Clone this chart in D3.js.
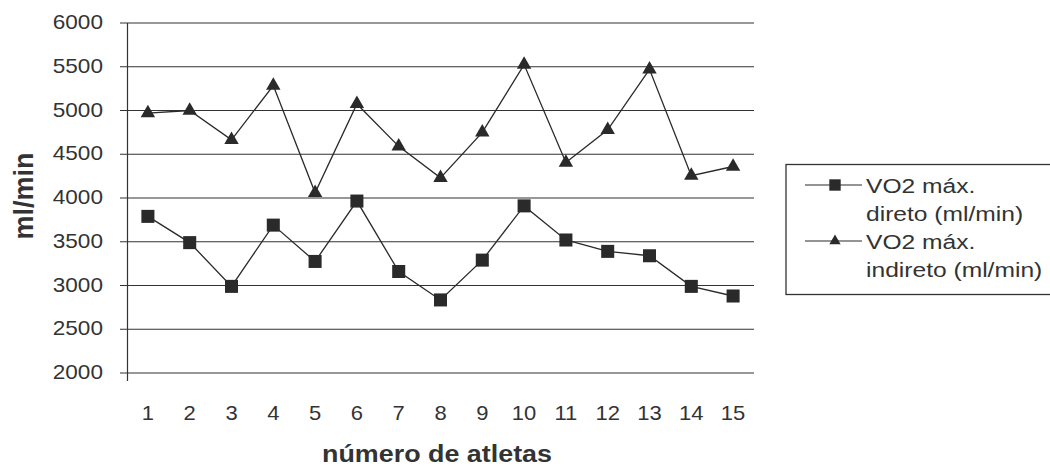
<!DOCTYPE html>
<html><head><meta charset="utf-8">
<script src="https://cdn.jsdelivr.net/npm/d3@7"></script>
<style>body{margin:0;background:#fff}svg{display:block}</style>
</head><body><svg id="c" width="1050" height="472"></svg>
<script>
const categories = ["1","2","3","4","5","6","7","8","9","10","11","12","13","14","15"];
const direto = [3790,3490,2990,3690,3275,3965,3160,2835,3290,3910,3520,3390,3340,2990,2880];
const indireto = [4970,5000,4665,5285,4060,5075,4590,4230,4750,5525,4405,4780,5470,4255,4360];
const yTicks = [2000,2500,3000,3500,4000,4500,5000,5500,6000];
const seriesNames = [["VO2 máx.","direto (ml/min)"],["VO2 máx.","indireto (ml/min)"]];

const svg = d3.select("#c");
const font = "Arial, 'Liberation Sans', sans-serif";
const ink = "#2a2a2a";
const txt = "#333";
const x = d3.scaleBand().domain(categories).range([127, 754]);
const y = d3.scaleLinear().domain([2000, 6000]).range([373, 23]);
const cx = d => x(d) + x.bandwidth()/2;

// gridlines
svg.append("g").selectAll("line").data(yTicks).join("line")
  .attr("x1", 120).attr("x2", 754).attr("y1", d=>y(d)).attr("y2", d=>y(d))
  .attr("stroke", "#333").attr("stroke-width", 1.2);
// y axis line
svg.append("line").attr("x1",127.5).attr("x2",127.5).attr("y1",y(6000)).attr("y2",381)
  .attr("stroke","#333").attr("stroke-width",1.2);
// y tick labels (source image is horizontally stretched)
svg.append("g").selectAll("text").data(yTicks).join("text")
  .attr("transform", d=>`translate(103,${y(d)+6}) scale(1.13,1)`).attr("text-anchor","end")
  .attr("font-family", font).attr("font-size", 20).attr("fill", txt).text(d=>d);
// x tick labels
svg.append("g").selectAll("text").data(categories).join("text")
  .attr("transform", d=>`translate(${cx(d)},420) scale(1.1,1)`).attr("text-anchor","middle")
  .attr("font-family", font).attr("font-size", 20).attr("fill", txt).text(d=>d);
// axis titles
svg.append("text").attr("transform","translate(437,462) scale(1.12,1)").attr("text-anchor","middle")
  .attr("font-family", font).attr("font-size", 24).attr("font-weight","bold").attr("fill",txt)
  .text("número de atletas");
svg.append("text").attr("transform","translate(33,196) rotate(-90)").attr("text-anchor","middle")
  .attr("font-family", font).attr("font-size", 27).attr("font-weight","bold").attr("fill",txt)
  .text("ml/min");

const line = d3.line().x((d,i)=>cx(categories[i])).y(d=>y(d));
svg.append("path").attr("d", line(direto)).attr("fill","none").attr("stroke",ink).attr("stroke-width",1.3);
svg.append("path").attr("d", line(indireto)).attr("fill","none").attr("stroke",ink).attr("stroke-width",1.3);

const sq = d3.symbol().type(d3.symbolSquare).size(170);
const tri = d3.symbol().type(d3.symbolTriangle).size(90);
svg.append("g").selectAll("path").data(direto).join("path")
  .attr("transform",(d,i)=>`translate(${cx(categories[i])},${y(d)})`).attr("d", sq()).attr("fill",ink);
svg.append("g").selectAll("path").data(indireto).join("path")
  .attr("transform",(d,i)=>`translate(${cx(categories[i])},${y(d)})`).attr("d", tri()).attr("fill",ink);

// legend
svg.append("rect").attr("x",786).attr("y",164.5).attr("width",270).attr("height",130)
  .attr("fill","none").attr("stroke","#333").attr("stroke-width",1.3);
const leg = [{y:185, base:[193,221], sym:d3.symbol().type(d3.symbolSquare).size(130)},
             {y:241, base:[249,277], sym:d3.symbol().type(d3.symbolTriangle).size(55)}];
leg.forEach((l,i)=>{
  svg.append("line").attr("x1",805).attr("x2",862).attr("y1",l.y).attr("y2",l.y).attr("stroke",ink).attr("stroke-width",1.2);
  svg.append("path").attr("transform",`translate(835,${l.y})`).attr("d", l.sym()).attr("fill",ink);
  seriesNames[i].forEach((t,j)=>{
    svg.append("text").attr("transform",`translate(866,${l.base[j]}) scale(1.23,1)`)
      .attr("font-family",font).attr("font-size",20).attr("fill",txt).text(t);
  });
});
</script></body></html>
